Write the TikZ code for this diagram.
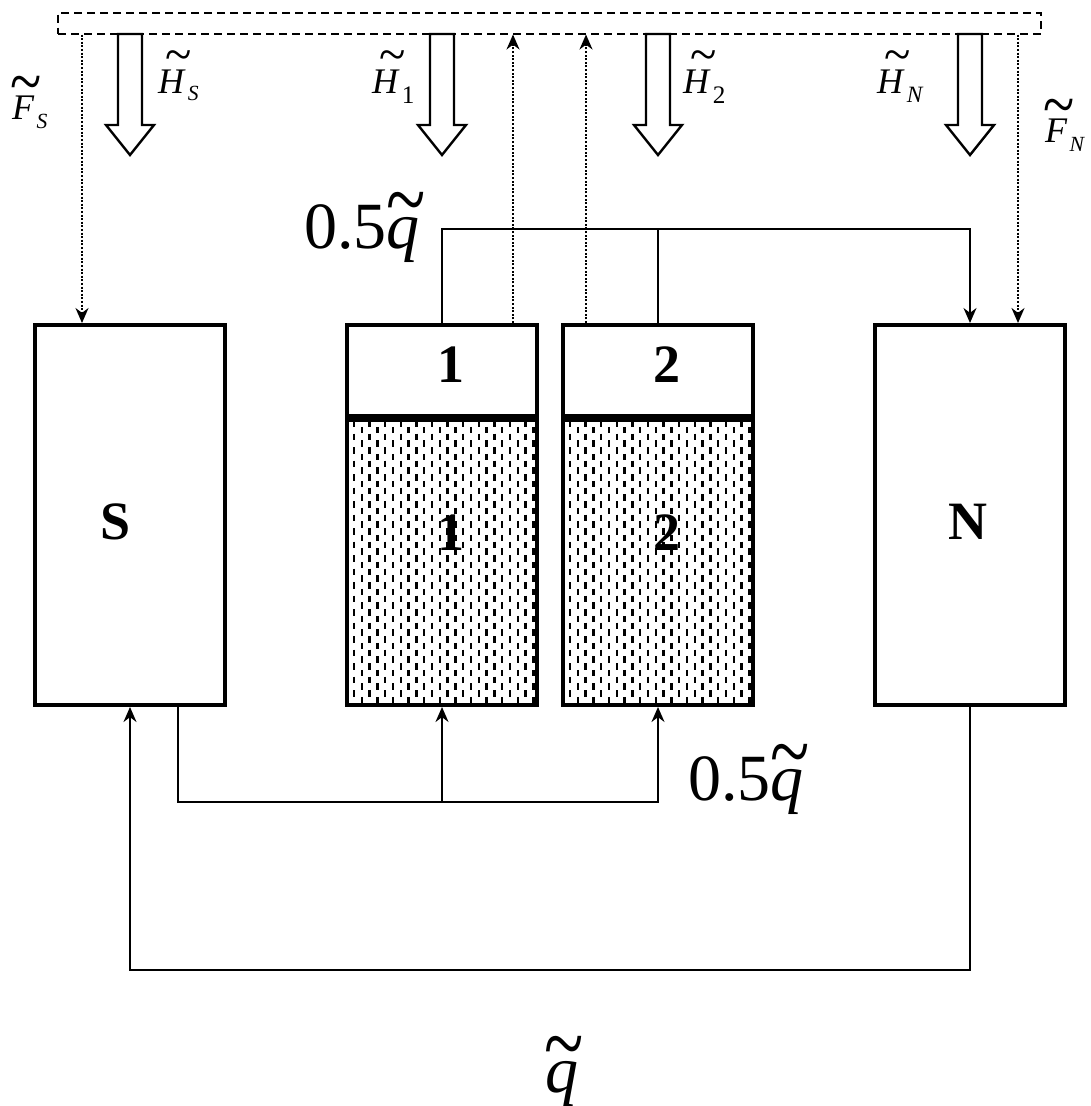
\documentclass[tikz,border=0pt]{standalone}
\usepackage{fontspec}
\setmainfont{Liberation Serif}
\usepackage{tikz}
\usetikzlibrary{arrows.meta,positioning,calc}

% letter with a wide tilde over it
% [#1] = shift, #2 = horizontal scale, #3 = vertical scale, #4 = raise, #5 = letter
\newcommand{\tv}[5][0.08em]{\ooalign{\textit{#5}\cr\hidewidth\kern#1\raisebox{#4}{\scalebox{#2}[#3]{\char"7E}}\hidewidth\cr}}
\newcommand{\sub}[3]{\kern0.06em\raisebox{#1}{\scalebox{#2}{#3}}}

\begin{document}
\begin{tikzpicture}[x=1pt,y=-1pt,>={Stealth[length=15pt,width=13pt]},
  box/.style={draw,line width=4pt,minimum width=190pt,inner sep=0pt},
  hatched/.style={path picture={
    \foreach \i in {0,...,23}{
      \pgfmathsetmacro\ph{mod(\i,2)*6.75}
      \draw[line width=2.4pt,dash pattern=on 6.5pt off 7pt,dash phase=\ph pt]
        ([xshift=\i*7.8pt+7pt]path picture bounding box.north west) --
        ([xshift=\i*7.8pt+7pt]path picture bounding box.south west);
    }}},
  flow/.style={line width=1.8pt},
  flux/.style={line width=2pt,dash pattern=on 2pt off 1.6pt},
  hollow/.style={draw,line width=2.4pt,fill=white},
  lab/.style={font=\fontsize{54}{54}\selectfont\bfseries},
  big/.style={font=\fontsize{66}{66}\selectfont,inner sep=0pt,anchor=base west},
  sym/.style={font=\fontsize{36}{36}\selectfont,inner sep=0pt,anchor=base west},
  fsym/.style={font=\fontsize{36}{36}\selectfont,inner sep=0pt,anchor=base west}]

  \useasboundingbox (0,0) rectangle (1091,1106);

  % atmosphere (dashed)
  \node[draw,line width=2pt,dash pattern=on 8pt off 5pt,
        minimum width=983pt,minimum height=21pt] (atm) at (549.5,23) {};

  % boxes
  \node[box,minimum height=380pt] (S) at (130,515) {};
  \node[box,minimum height=380pt] (N) at (970,515) {};
  \node[box,hatched,minimum height=285pt] (b1low) at (442,562.5) {};
  \node[box,hatched,minimum height=285pt] (b2low) at (658,562.5) {};
  \node[box,minimum height=91pt] (b1top) at (442,370.5) {};
  \node[box,minimum height=91pt] (b2top) at (658,370.5) {};

  \node[lab] (ls) at (116,522) {S};
  \node[lab] (ln) at (968,522) {N};
  \node[lab] (t1) at (451,365) {1};
  \node[lab] (t2) at (667,365) {2};
  \node[lab] (l1) at (451,533) {1};
  \node[lab] (l2) at (667,533) {2};

  % heat fluxes
  \foreach \x in {130,442,658,970}
    \draw[hollow] (\x-12,34) -- (\x+12,34) -- (\x+12,125) -- (\x+24,125)
      -- (\x,155) -- (\x-24,125) -- (\x-12,125) -- cycle;

  \node[sym] (hs) at (158,93) {\tv[0.35em]{1.35}{1.4}{0.6em}{H}\sub{-0.2em}{0.6}{\textit{S}}};
  \node[sym] (h1) at (372,93) {\tv[0.35em]{1.35}{1.4}{0.6em}{H}\sub{-0.28em}{0.7}{1}};
  \node[sym] (h2) at (683,93) {\tv[0.35em]{1.35}{1.4}{0.6em}{H}\sub{-0.28em}{0.7}{2}};
  \node[sym] (hn) at (877,93) {\tv[0.35em]{1.35}{1.4}{0.6em}{H}\sub{-0.25em}{0.65}{\textit{N}}};
  \node[fsym] (fs) at (12,119) {\tv[0.15em]{1.6}{1.9}{0.4em}{F}\sub{-0.25em}{0.6}{\textit{S}}};
  \node[fsym] (fn) at (1045,142) {\tv[0.15em]{1.6}{1.9}{0.4em}{F}\sub{-0.25em}{0.6}{\textit{N}}};

  % freshwater fluxes (dotted)
  \coordinate (xfs) at (82,0);
  \coordinate (xfn) at (1018,0);
  \coordinate (xe1) at (513,0);
  \coordinate (xe2) at (586,0);
  \draw[flux,->] (atm.south -| xfs) -- (S.north -| xfs);
  \draw[flux,->] (atm.south -| xfn) -- (N.north -| xfn);
  \draw[flux,->] (b1top.north -| xe1) -- (atm.south -| xe1);
  \draw[flux,->] (b2top.north -| xe2) -- (atm.south -| xe2);

  % overturning flow
  \coordinate (ytop) at (0,229);
  \coordinate (ymid) at (0,802);
  \coordinate (ybot) at (0,970);
  \coordinate (xsb) at (178,0);
  \draw[flow,->] (b1top.north) -- (b1top.north |- ytop) -| (N.north);
  \draw[flow] (b2top.north) -- (b2top.north |- ytop);
  \draw[flow,->] (S.south -| xsb) -- (xsb |- ymid) -| (b2low.south);
  \draw[flow,->] (b1low.south |- ymid) -- (b1low.south);
  \draw[flow,->] (N.south) -- (N.south |- ybot) -| (S.south);

  \node[big] (qa) at (304,248) {0.5\tv{1.1}{1.4}{0.27em}{q}};
  \node[big] (qb) at (688,800) {0.5\tv{1.1}{1.4}{0.27em}{q}};
  \node[big] (qc) at (545,1092) {\tv{1.1}{1.4}{0.27em}{q}};
\end{tikzpicture}
\end{document}
